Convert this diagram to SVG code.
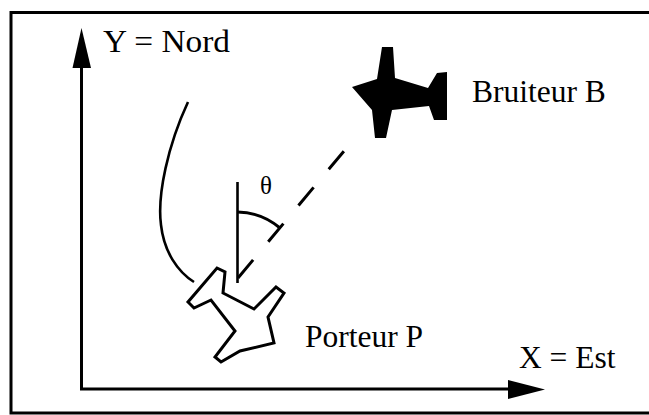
<svg xmlns="http://www.w3.org/2000/svg" width="649" height="415" viewBox="0 0 649 415">
  <style>
    .label { font-family: "Liberation Serif", "Times New Roman", serif; font-size: 31.5px; fill: #000; }
    .greek { font-family: "Liberation Serif", "Times New Roman", serif; font-size: 25px; fill: #000; }
    .line { fill: none; stroke: #000; stroke-width: 3; }
    .thin { fill: none; stroke: #000; stroke-width: 2.6; }
  </style>
  <rect width="649" height="415" fill="#fff"/>

  <!-- outer frame (right side runs past the canvas) -->
  <path class="line" d="M700,12.5 H11 V413 H700"/>

  <!-- coordinate axes -->
  <g id="axes">
    <path class="line" d="M81.5,389 V60"/>
    <polygon points="81.5,28 72.5,68 91,68" fill="#000"/>
    <path class="line" d="M80,389 H515"/>
    <polygon points="545,389.5 508,380 508,399" fill="#000"/>
    <text class="label" x="103" y="52" textLength="127" lengthAdjust="spacingAndGlyphs">Y = Nord</text>
    <text class="label" x="519" y="368">X = Est</text>
  </g>

  <!-- noise source B -->
  <g id="bruiteur">
    <polygon fill="#000" points="382,47 393,47 395,78 428,88 437,73 447,72 447,120 434,120 429,106 392,110 386,138 375,138 372,110 352,87 377,79"/>
    <text class="label" x="472" y="102">Bruiteur B</text>
  </g>

  <!-- carrier P -->
  <g id="porteur">
    <polygon fill="#fff" stroke="#000" stroke-width="3" stroke-linejoin="miter" points="217,268 225,272 223,293 254,309 276,287 284,293 268,317 274,343 240,351 221,362 215,357 235,331 211,300 194,308 188,302"/>
    <text class="label" x="305" y="347">Porteur P</text>
  </g>

  <!-- trajectory, north reference, bearing line and angle -->
  <g id="connectors">
    <path class="thin" d="M188,102 C168,145 157,195 161,225 C164,252 178,272 194,282"/>
    <path class="thin" d="M237.5,182 V283"/>
    <path class="line" d="M238,278 L344,151" stroke-dasharray="23.6 23.6"/>
    <path class="line" d="M237.5,212 A67,67 0 0 1 280,228"/>
    <text class="greek" x="260" y="194">θ</text>
  </g>
</svg>
